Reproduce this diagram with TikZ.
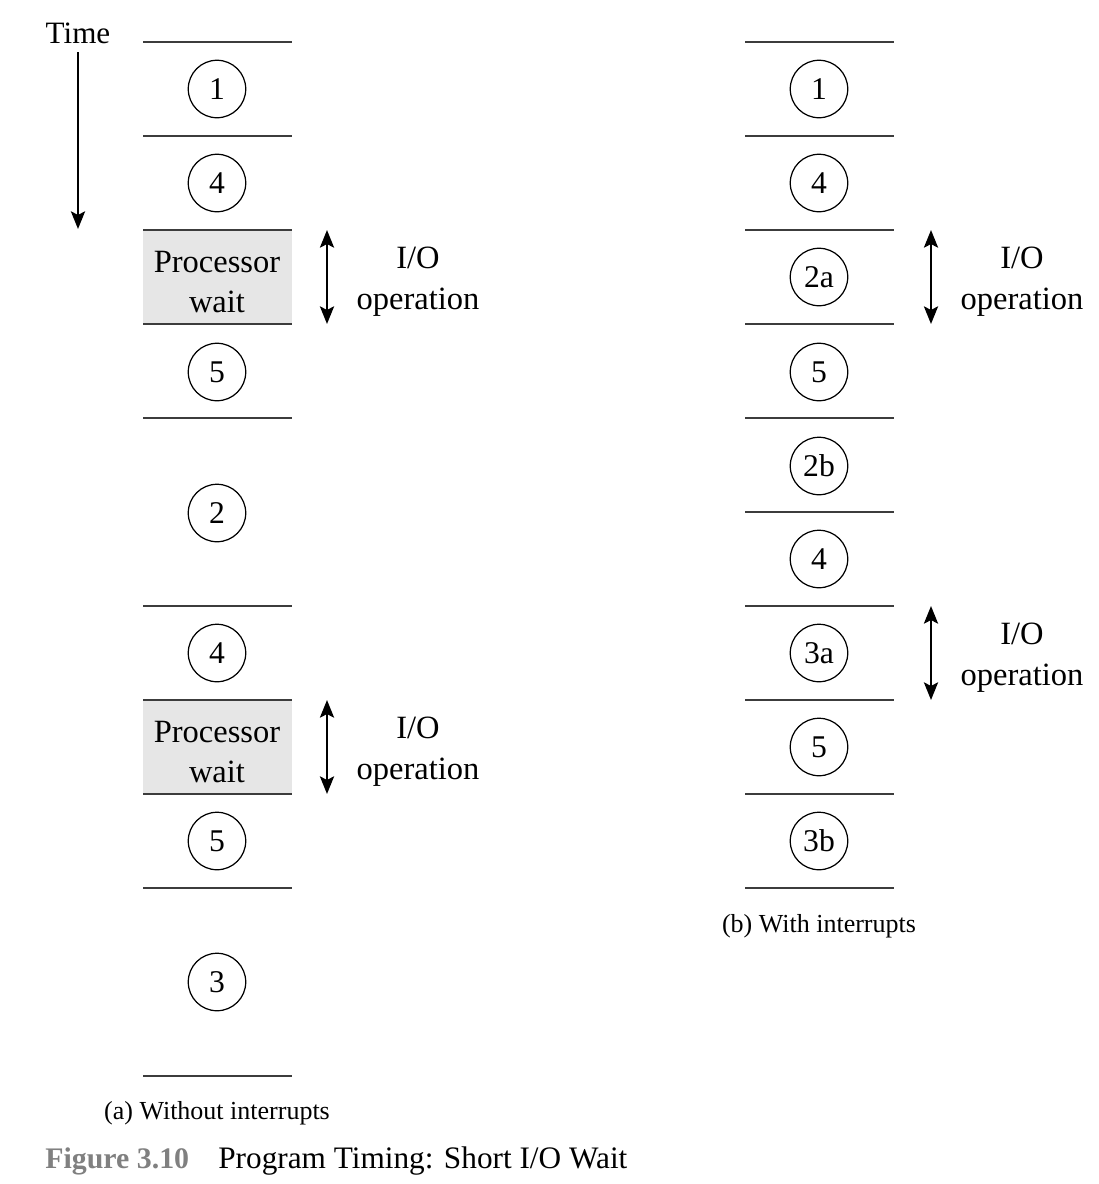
\documentclass[tikz,border=0pt]{standalone}
\usepackage{fontspec}
\setmainfont{Liberation Serif}
\usetikzlibrary{arrows.meta, positioning}
\definecolor{sepgray}{RGB}{60,60,60}
\definecolor{waitgray}{RGB}{230,230,230}
\definecolor{figgray}{RGB}{128,128,128}
\tikzset{
    seg/.style={draw=sepgray, line width=1pt},
    stepnum/.style={circle, draw, line width=0.7pt, minimum size=1.15cm, inner sep=0pt, font=\fontsize{18}{20}\selectfont},
    lbl/.style={font=\fontsize{18.5}{23.2}\selectfont, align=center},
    ioarrow/.style={line width=1.4pt, {Stealth[length=10pt,width=8pt,inset=2pt]}-{Stealth[length=10pt,width=8pt,inset=2pt]}},
    capt/.style={font=\fontsize{14.8}{16}\selectfont}
}
\begin{document}
\begin{tikzpicture}[x=0.02cm, y=-0.02cm]
    \useasboundingbox (0,0) rectangle (1099,1184);

    % Time axis
    \node[lbl, font=\fontsize{17.7}{19}\selectfont] (time) at (78,33) {Time};
    \coordinate (tstart) at (78,52);
    \coordinate (tend) at (78,229);
    \draw[line width=1.4pt, -{Stealth[length=10pt,width=8pt,inset=2pt]}] (tstart) -- (tend);

    % (a) Without interrupts: processor wait boxes
    \fill[waitgray] (143,230) rectangle (292,324);
    \fill[waitgray] (143,700) rectangle (292,794);
    \node[lbl] (waitA) at (217,282) {Processor\\wait};
    \node[lbl] (waitB) at (217,752) {Processor\\wait};

    % (a) separators
    \draw[seg] (143,42) -- (292,42) (143,136) -- (292,136) (143,230) -- (292,230)
        (143,324) -- (292,324) (143,418) -- (292,418) (143,606) -- (292,606)
        (143,700) -- (292,700) (143,794) -- (292,794) (143,888) -- (292,888)
        (143,1076) -- (292,1076);

    % (a) program steps
    \node[stepnum] (a1) at (217,89) {1};
    \node[stepnum] (a4) at (217,183) {4};
    \node[stepnum] (a5) at (217,372) {5};
    \node[stepnum] (a2) at (217,513) {2};
    \node[stepnum] (a4b) at (217,653) {4};
    \node[stepnum] (a5b) at (217,841) {5};
    \node[stepnum] (a3) at (217,982) {3};

    % (a) I/O operations
    \coordinate (ioAtop) at (327,230);
    \coordinate (ioAbot) at (327,324);
    \draw[ioarrow] (ioAtop) -- (ioAbot);
    \node[lbl] (ioA) at (418,282) {I/O\\operation};
    \coordinate (ioBtop) at (327,700);
    \coordinate (ioBbot) at (327,794);
    \draw[ioarrow] (ioBtop) -- (ioBbot);
    \node[lbl] (ioB) at (418,752) {I/O\\operation};

    % (b) With interrupts: separators
    \draw[seg] (745,42) -- (894,42) (745,136) -- (894,136) (745,230) -- (894,230)
        (745,324) -- (894,324) (745,418) -- (894,418) (745,512) -- (894,512)
        (745,606) -- (894,606) (745,700) -- (894,700) (745,794) -- (894,794)
        (745,888) -- (894,888);

    % (b) program steps
    \node[stepnum] (b1) at (819,89) {1};
    \node[stepnum] (b4) at (819,183) {4};
    \node[stepnum] (b2a) at (819,277) {2a};
    \node[stepnum] (b5) at (819,372) {5};
    \node[stepnum] (b2b) at (819,466) {2b};
    \node[stepnum] (b4b) at (819,559) {4};
    \node[stepnum] (b3a) at (819,653) {3a};
    \node[stepnum] (b5b) at (819,747) {5};
    \node[stepnum] (b3b) at (819,841) {3b};

    % (b) I/O operations
    \coordinate (ioCtop) at (931,230);
    \coordinate (ioCbot) at (931,324);
    \draw[ioarrow] (ioCtop) -- (ioCbot);
    \node[lbl] (ioC) at (1022,282) {I/O\\operation};
    \coordinate (ioDtop) at (931,606);
    \coordinate (ioDbot) at (931,700);
    \draw[ioarrow] (ioDtop) -- (ioDbot);
    \node[lbl] (ioD) at (1022,658) {I/O\\operation};

    % Captions
    \node[capt] (captA) at (217,1113) {(a) Without interrupts};
    \node[capt] (captB) at (819,926) {(b) With interrupts};
    \node[anchor=base west, inner sep=0pt, font=\fontsize{17}{19}\selectfont\bfseries, text=figgray] (fignum) at (45,1168) {Figure 3.10};
    \node[anchor=base west, inner sep=0pt, font=\fontsize{17.8}{19}\selectfont] (figtitle) at (218,1168) {Program Timing: Short I/O Wait};
\end{tikzpicture}
\end{document}
